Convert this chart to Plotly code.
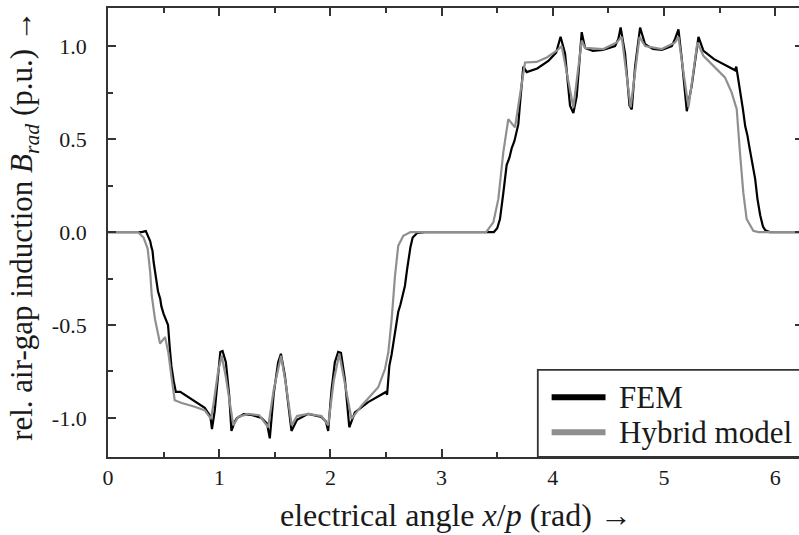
import plotly.graph_objects as go

# ---- data ----
fem_x = [0.00, 0.30, 0.34, 0.36, 0.38, 0.39, 0.40, 0.41, 0.42, 0.43, 0.44, 0.45, 0.47, 0.48, 0.50,
         0.52, 0.54, 0.555, 0.57, 0.59, 0.61, 0.65, 0.75, 0.87, 0.92, 0.935, 0.96, 0.99, 1.01, 1.03,
         1.06, 1.09, 1.11, 1.14, 1.16, 1.22, 1.30, 1.38, 1.43, 1.455, 1.49, 1.53, 1.555, 1.59, 1.62,
         1.65, 1.70, 1.80, 1.92, 1.96, 1.98, 2.01, 2.04, 2.07, 2.095, 2.13, 2.17, 2.22, 2.34, 2.45,
         2.50, 2.51, 2.53, 2.55, 2.57, 2.59, 2.61, 2.63, 2.65, 2.67, 2.69, 2.70, 2.72, 2.74, 2.78,
         2.85, 3.47, 3.50, 3.525, 3.555, 3.585, 3.61, 3.63, 3.655, 3.675, 3.69, 3.705, 3.735, 3.765,
         3.86, 3.96, 4.03, 4.07, 4.11, 4.155, 4.185, 4.215, 4.26, 4.29, 4.36, 4.45, 4.56, 4.59, 4.61,
         4.65, 4.69, 4.71, 4.74, 4.785, 4.83, 4.90, 4.98, 5.07, 5.10, 5.13, 5.16, 5.205, 5.25, 5.31,
         5.355, 5.45, 5.55, 5.64, 5.65, 5.67, 5.70, 5.71, 5.73, 5.75, 5.77, 5.79, 5.82, 5.84, 5.865,
         5.89, 5.91, 5.95, 6.283]
fem_y = [0.0, 0.0, 0.005, -0.02, -0.05, -0.08, -0.10, -0.16, -0.20, -0.25, -0.27, -0.32, -0.36, -0.40, -0.44,
         -0.47, -0.50, -0.62, -0.72, -0.80, -0.86, -0.86, -0.90, -0.945, -0.99, -1.06, -0.96, -0.75, -0.645, -0.64,
         -0.70, -0.88, -1.07, -1.02, -1.00, -0.98, -0.985, -1.00, -1.03, -1.11, -0.87, -0.70, -0.655, -0.77, -0.92,
         -1.07, -1.01, -0.978, -0.995, -1.02, -1.07, -0.85, -0.70, -0.645, -0.65, -0.79, -1.05, -0.97, -0.915, -0.88,
         -0.86, -0.875, -0.72, -0.66, -0.58, -0.52, -0.43, -0.39, -0.33, -0.29, -0.20, -0.15, -0.08, -0.03, -0.005,
         0.0, 0.0, 0.02, 0.07, 0.21, 0.36, 0.40, 0.45, 0.49, 0.54, 0.58, 0.69, 0.89, 0.86,
         0.88, 0.92, 0.965, 1.05, 0.96, 0.68, 0.64, 0.73, 1.075, 0.99, 0.975, 0.98, 1.00, 1.04, 1.10,
         0.96, 0.68, 0.66, 0.89, 1.10, 1.01, 0.985, 0.98, 1.00, 1.04, 1.09, 0.93, 0.65, 0.79, 1.05,
         0.975, 0.93, 0.90, 0.87, 0.89, 0.82, 0.715, 0.66, 0.57, 0.52, 0.45, 0.38, 0.285, 0.18, 0.09,
         0.03, 0.01, 0.0, 0.0]

hyb_x = [0.00, 0.27, 0.32, 0.357, 0.38, 0.393, 0.423, 0.468, 0.513, 0.543, 0.573, 0.60, 0.663, 0.78,
         0.872, 0.926, 0.95, 0.99, 1.022, 1.06, 1.127, 1.17, 1.26, 1.36, 1.44, 1.49, 1.556, 1.60, 1.652,
         1.70, 1.80, 1.92, 1.98, 2.03, 2.08, 2.13, 2.19, 2.28, 2.43, 2.491, 2.521, 2.551, 2.581, 2.61,
         2.656, 2.72, 3.40, 3.465, 3.51, 3.555, 3.60, 3.66, 3.705, 3.75, 3.855, 3.95, 4.035, 4.08, 4.185,
         4.26, 4.29, 4.454, 4.575, 4.62, 4.70, 4.78, 4.83, 4.98, 5.10, 5.13, 5.22, 5.30, 5.354, 5.45,
         5.548, 5.608, 5.654, 5.683, 5.713, 5.743, 5.803, 5.85, 6.283]
hyb_y = [0.0, 0.0, -0.03, -0.09, -0.22, -0.34, -0.47, -0.60, -0.565, -0.65, -0.79, -0.905, -0.92, -0.94,
         -0.96, -1.005, -0.92, -0.75, -0.665, -0.78, -1.04, -0.995, -0.978, -0.985, -1.05, -0.85, -0.665, -0.82, -1.04,
         -0.99, -0.978, -0.99, -1.04, -0.80, -0.655, -0.82, -1.005, -0.934, -0.835, -0.737, -0.647, -0.468, -0.235, -0.074,
         -0.02, 0.0, 0.0, 0.052, 0.177, 0.43, 0.607, 0.563, 0.733, 0.912, 0.915, 0.94, 0.975, 1.00, 0.67,
         1.03, 0.99, 0.984, 1.02, 1.05, 0.67, 1.05, 1.00, 0.984, 1.02, 1.05, 0.67, 1.02, 0.948, 0.89,
         0.832, 0.751, 0.661, 0.428, 0.213, 0.07, 0.007, 0.0, 0.0]

x_ticks = [0, 1, 2, 3, 4, 5, 6]
y_ticks = [-1.0, -0.5, 0.0, 0.5, 1.0]
y_tick_labels = ["-1.0", "-0.5", "0.0", "0.5", "1.0"]
series_names = ["FEM", "Hybrid model"]

FONT = "Liberation Serif, 'Times New Roman', Times, 'DejaVu Serif', serif"
TXT = "#1a1a1a"
AX = "#333333"
GRAY = "#8f8f8f"

fig = go.Figure()
fig.add_trace(go.Scatter(x=fem_x, y=fem_y, mode="lines", name=series_names[0],
                         line=dict(color="#000000", width=2.2), showlegend=False))
fig.add_trace(go.Scatter(x=hyb_x, y=hyb_y, mode="lines", name=series_names[1],
                         line=dict(color=GRAY, width=2.2), showlegend=False))
# helper trace so the right-hand tick axis is rendered
fig.add_trace(go.Scatter(x=[None], y=[None], yaxis="y2", showlegend=False, hoverinfo="skip"))

yr = [-1.21, 1.205]
fig.update_layout(
    width=799, height=535,
    margin=dict(l=108, r=0, t=8, b=78),
    paper_bgcolor="white", plot_bgcolor="white",
    font=dict(family=FONT, color=TXT, size=22),
    xaxis=dict(range=[0, 6.214], tickvals=x_ticks, ticks="inside", ticklen=8, tickwidth=1.5,
               tickcolor=AX, showline=True, linecolor=AX, linewidth=1.8, mirror="ticks",
               showgrid=False, zeroline=False, ticklabelstandoff=0, automargin=False,
               tickfont=dict(family=FONT, size=22, color=TXT),
               minor=dict(dtick=0.5, tick0=0, ticks="inside", ticklen=5, tickwidth=1.5, tickcolor=AX)),
    yaxis=dict(range=yr, tickvals=y_ticks, ticktext=y_tick_labels, ticks="inside", ticklen=8,
               tickwidth=1.5, tickcolor=AX, showline=True, linecolor=AX, linewidth=1.8,
               automargin=False, showgrid=False, zeroline=False, ticklabelstandoff=15,
               tickfont=dict(family=FONT, size=22, color=TXT),
               minor=dict(dtick=0.25, tick0=0, ticks="inside", ticklen=5, tickwidth=1.5, tickcolor=AX)),
    yaxis2=dict(range=yr, overlaying="y", side="right", tickvals=y_ticks, ticks="inside", ticklen=4,
                tickwidth=1.5, tickcolor=AX, showline=False, showticklabels=False, showgrid=False,
                zeroline=False, automargin=False),
    showlegend=False,
)

# axis titles
fig.add_annotation(xref="paper", yref="paper", x=0.504, y=-0.129, showarrow=False,
                   text="electrical angle <i>x</i>/<i>p</i> (rad) →", font=dict(size=32, family=FONT, color=TXT),
                   xanchor="center", yanchor="middle")
fig.add_annotation(xref="paper", yref="paper", x=-0.1216, y=0.517, showarrow=False, textangle=-90,
                   text="rel. air-gap induction <i>B<sub>rad</sub></i> (p.u.) →",
                   font=dict(size=31, family=FONT, color=TXT), xanchor="center", yanchor="middle")

# legend box (drawn manually so its lines match the reference)
lx0, ly1 = 0.622, 0.194
fig.add_shape(type="rect", xref="paper", yref="paper", x0=lx0, x1=1.05, y0=0, y1=ly1,
              line=dict(color=AX, width=1.8), fillcolor="white", layer="above")
for i, (nm, col) in enumerate(zip(series_names, ["#000000", GRAY])):
    yy = 0.133 - i * 0.078
    fig.add_shape(type="line", xref="paper", yref="paper", x0=0.642, x1=0.720, y0=yy, y1=yy,
                  line=dict(color=col, width=6), layer="above")
    fig.add_annotation(xref="paper", yref="paper", x=0.737, y=yy, text=nm, showarrow=False,
                       xanchor="left", yanchor="middle", font=dict(size=31, family=FONT, color=TXT))

fig.write_html("out.html", config={"displayModeBar": False},
               post_script="document.body.style.margin='0px';document.body.style.overflow='hidden';")
